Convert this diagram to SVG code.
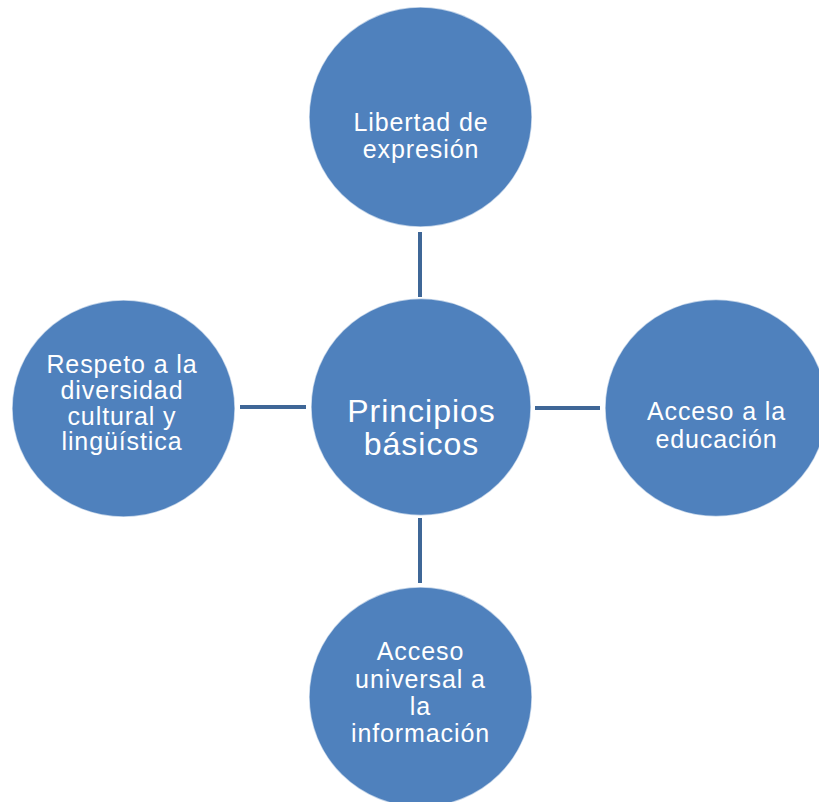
<svg xmlns="http://www.w3.org/2000/svg" width="819" height="802" viewBox="0 0 819 802">
  <style>
    .node { fill: #4F81BD; stroke: #FFFFFF; stroke-width: 1.5; stroke-opacity: 0.6; }
    .conn { stroke: #3F6797; stroke-width: 4; fill: none; }
    .lbl { font-family: "Liberation Sans", Arial, sans-serif; font-size: 25px; fill: #FFFFFF; text-anchor: middle; letter-spacing: 0.9px; }
    .main { font-family: "Liberation Sans", Arial, sans-serif; font-size: 32px; fill: #FFFFFF; text-anchor: middle; letter-spacing: 1px; }
  </style>
  <rect x="0" y="0" width="819" height="802" fill="#FFFFFF"/>
  <g id="connectors">
    <line class="conn" x1="420" y1="232" x2="420" y2="297"/>
    <line class="conn" x1="420" y1="518" x2="420" y2="583"/>
    <line class="conn" x1="240" y1="407" x2="306" y2="407"/>
    <line class="conn" x1="535" y1="408" x2="600" y2="408"/>
  </g>
  <g id="node-libertad">
    <ellipse class="node" cx="420.5" cy="117" rx="111.5" ry="110"/>
    <text class="lbl" x="421" y="131">Libertad de</text>
    <text class="lbl" x="421" y="158">expresión</text>
  </g>
  <g id="node-principios">
    <ellipse class="node" cx="421" cy="407" rx="110" ry="108.5"/>
    <text class="main" x="421.5" y="422">Principios</text>
    <text class="main" x="421.5" y="455">básicos</text>
  </g>
  <g id="node-respeto">
    <ellipse class="node" cx="123.5" cy="408.5" rx="111.5" ry="108.5"/>
    <text class="lbl" x="122" y="373">Respeto a la</text>
    <text class="lbl" x="122" y="399">diversidad</text>
    <text class="lbl" x="122" y="424.5">cultural y</text>
    <text class="lbl" x="122" y="450">lingüística</text>
  </g>
  <g id="node-educacion">
    <ellipse class="node" cx="716" cy="408" rx="111" ry="108.5"/>
    <text class="lbl" x="716.5" y="420">Acceso a la</text>
    <text class="lbl" x="716.5" y="448">educación</text>
  </g>
  <g id="node-informacion">
    <ellipse class="node" cx="420.5" cy="697" rx="111.5" ry="110"/>
    <text class="lbl" x="420.5" y="660">Acceso</text>
    <text class="lbl" x="420.5" y="687.5">universal a</text>
    <text class="lbl" x="420.5" y="715">la</text>
    <text class="lbl" x="420.5" y="742">información</text>
  </g>
</svg>
